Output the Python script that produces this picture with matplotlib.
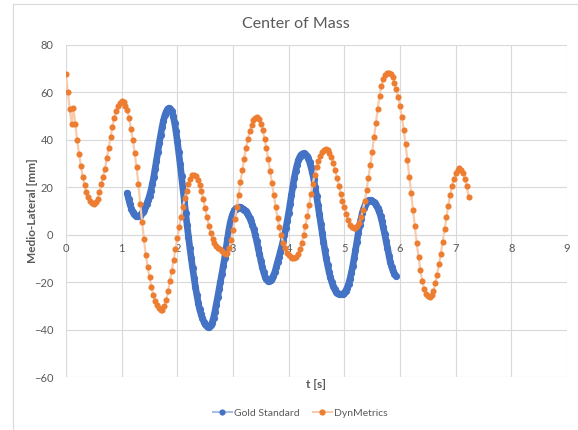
import matplotlib.pyplot as plt
import numpy as np
from matplotlib.lines import Line2D

plt.rcParams["font.family"] = ["Lato", "DejaVu Sans"]

# DynMetrics estimate, sampled at 30 Hz from t = 0
dyn_t0 = 0.0
dyn_dt = 1 / 30
dyn_ml = [
    67.5, 60.0, 53.0, 46.5, 53.3, 46.6, 40.0, 34.0, 29.0, 24.3,
    20.8, 18.1, 16.0, 14.4, 13.3, 12.9, 13.6, 15.2, 17.8, 21.3,
    24.3, 27.8, 32.2, 36.6, 41.2, 45.4, 49.2, 52.2, 54.2, 55.6,
    56.2, 55.7, 54.4, 52.6, 49.0, 44.5, 40.0, 34.5, 28.5, 21.5,
    13.0, 5.5, -2.0, -8.5, -13.5, -18.0, -22.0, -25.3, -27.9, -29.8,
    -31.0, -31.6, -31.5, -30.2, -27.5, -23.8, -19.6, -15.2, -10.6, -6.0,
    -1.3, 3.3, 7.6, 11.6, 15.3, 18.6, 21.4, 23.6, 25.0, 25.3,
    24.6, 23.2, 21.0, 18.2, 14.9, 11.2, 7.4, 3.8, 0.6, -1.9,
    -3.7, -4.8, -5.5, -6.1, -6.8, -7.6, -8.2, -7.8, -5.6, -2.2,
    2.0, 6.6, 11.6, 16.8, 22.0, 27.2, 32.0, 36.4, 40.3, 43.6,
    46.2, 48.1, 49.2, 49.4, 48.6, 46.8, 44.0, 40.5, 36.3, 31.7,
    26.8, 21.7, 16.6, 11.7, 7.2, 3.2, -0.3, -3.3, -5.7, -7.5,
    -8.5, -9.3, -9.8, -9.8, -9.3, -8.0, -6.0, -3.4, -0.2, 3.5,
    7.8, 12.5, 17.2, 21.5, 25.3, 28.5, 31.2, 33.3, 34.9, 35.8,
    36.0, 35.5, 34.4, 32.6, 30.2, 27.3, 24.0, 20.6, 17.3, 14.3,
    11.5, 8.6, 6.0, 4.2, 3.1, 2.7, 2.8, 3.5, 5.0, 7.3,
    10.5, 14.3, 19.0, 24.0, 29.5, 35.0, 41.0, 47.0, 53.0, 58.5,
    62.8, 65.5, 67.2, 68.1, 68.2, 67.6, 66.2, 64.0, 61.3, 58.0,
    54.0, 49.5, 44.0, 38.0, 31.5, 24.5, 17.5, 10.5, 3.5, -3.5,
    -9.5, -15.0, -19.5, -22.7, -24.9, -26.0, -26.3, -25.5, -23.5, -20.5,
    -16.8, -12.5, -8.0, -3.0, 2.2, 7.3, 12.2, 16.6, 20.4, 23.5,
    25.8, 27.3, 27.9, 27.4, 26.0, 23.6, 20.3, 16.0,
]

# Gold standard (marker based), resampled at 40 Hz from t = 1.1 s
gold_t0 = 1.1
gold_dt = 0.025
gold_ml = [
    17.5, 15.0, 12.8, 11.0, 9.6, 8.6, 8.0, 7.7, 7.7, 8.0,
    8.6, 9.4, 10.4, 11.6, 13.0, 14.6, 16.4, 18.6, 21.2, 24.2,
    27.6, 31.2, 35.0, 38.6, 42.0, 45.2, 48.0, 50.2, 51.8, 52.9,
    53.3, 53.0, 51.9, 50.0, 47.2, 43.6, 39.4, 34.7, 29.8, 24.6,
    19.4, 14.2, 9.0, 4.0, -0.9, -5.6, -10.0, -14.2, -18.2, -22.0,
    -25.4, -28.6, -31.4, -33.4, -35.2, -36.6, -37.8, -38.5, -38.8, -38.7,
    -38.2, -37.0, -35.0, -32.4, -29.4, -26.2, -23.0, -19.8, -16.6, -13.2,
    -9.8, -6.0, -2.0, 2.0, 5.0, 7.4, 9.0, 10.2, 11.0, 11.4,
    11.6, 11.6, 11.4, 11.0, 10.6, 10.0, 9.2, 8.2, 7.0, 5.6,
    4.0, 2.2, 0.0, -2.6, -5.4, -8.2, -11.0, -13.6, -15.8, -17.6,
    -18.8, -19.4, -19.5, -19.1, -18.4, -17.3, -15.8, -13.8, -11.5, -9.5,
    -7.3, -5.0, -2.6, 0.0, 2.8, 5.9, 9.3, 13.0, 16.8, 20.4,
    23.8, 26.8, 29.3, 31.3, 32.8, 33.7, 34.1, 34.2, 33.9, 33.2,
    32.1, 30.6, 28.6, 26.2, 23.4, 20.1, 16.5, 12.6, 8.6, 4.6,
    0.7, -3.0, -6.6, -9.9, -12.9, -15.6, -18.0, -20.0, -21.7, -23.0,
    -24.0, -24.5, -25.0, -25.1, -25.1, -24.9, -24.4, -23.6, -22.4, -20.8,
    -18.7, -16.2, -13.3, -10.0, -6.6, -3.0, 0.6, 3.9, 6.8, 9.3,
    11.2, 12.6, 13.6, 14.3, 14.5, 14.5, 14.3, 13.8, 13.2, 12.3,
    11.2, 9.8, 8.0, 5.7, 3.1, 0.3, -2.7, -5.8, -8.9, -11.5,
    -13.6, -15.2, -16.4, -17.3,
]

x_ticks = list(range(0, 10))
y_ticks = [-60, -40, -20, 0, 20, 40, 60, 80]

BLUE = "#4472C4"
BLUE_LINE = "#A9BEE6"
ORANGE = "#ED7D31"
ORANGE_LINE = "#F8CBAD"
GRID = "#D9D9D9"
TEXT = "#595959"

dyn_t = dyn_t0 + dyn_dt * np.arange(len(dyn_ml))
gold_t = gold_t0 + gold_dt * np.arange(len(gold_ml))

fig = plt.figure(figsize=(5.78, 4.30), dpi=100)
ax = fig.add_axes([66 / 578, 1 - 377.2 / 430, 501 / 578, 332.5 / 430])

ax.set_xlim(0, 9)
ax.set_ylim(-60, 80)
ax.set_xticks(x_ticks)
ax.set_yticks(y_ticks)
ax.grid(True, color=GRID, linewidth=0.8)
ax.set_axisbelow(True)
for side in ["top", "right", "left"]:
    ax.spines[side].set_visible(False)
ax.spines["bottom"].set_position(("data", 0))
ax.spines["bottom"].set_color(GRID)
ax.spines["bottom"].set_linewidth(0.8)
ax.tick_params(axis="both", length=0, colors=TEXT, labelsize=8)
ax.tick_params(axis="x", pad=6)
ax.tick_params(axis="y", pad=9)

# gold standard: dense samples read as a thick band
ax.plot(gold_t, gold_ml, color=BLUE, linewidth=4.8, solid_capstyle="round", zorder=3)
ax.plot(gold_t, gold_ml, linestyle="none", marker="o", markersize=5.2,
        color=BLUE, markeredgewidth=0, zorder=3)

ax.plot(dyn_t, dyn_ml, color=ORANGE_LINE, linewidth=1.6, zorder=4)
ax.plot(dyn_t, dyn_ml, linestyle="none", marker="o", markersize=4.4,
        color=ORANGE, markeredgewidth=0, zorder=4)

ax.text(0.5, -0.021, "t [s]", transform=ax.transAxes, ha="center", va="center",
        fontsize=8.5, fontweight="bold", color=TEXT)
fig.text(32 / 578, 1 - 211 / 430, "Medio-Lateral [mm]", rotation=90,
         ha="center", va="center", fontsize=8.5, fontweight="bold", color=TEXT)
fig.text(296 / 578, 1 - 24 / 430, "Center of Mass", ha="center", va="center",
         fontsize=11.5, color=TEXT)

handles = [
    Line2D([], [], color=BLUE_LINE, linewidth=1.5, marker="o", markersize=4.5,
           markerfacecolor=BLUE, markeredgewidth=0),
    Line2D([], [], color=ORANGE_LINE, linewidth=1.5, marker="o", markersize=4.5,
           markerfacecolor=ORANGE, markeredgewidth=0),
]
fig.legend(handles, ["Gold Standard", "DynMetrics"], loc="center",
           bbox_to_anchor=(300 / 578, 1 - 413 / 430), ncol=2, frameon=False,
           fontsize=7.5, labelcolor=TEXT, handlelength=1.9, columnspacing=1.25,
           handletextpad=0.15)

# chart frame
fig.add_artist(Line2D([13 / 578, 13 / 578], [0, 1 - 4 / 430], color=GRID, linewidth=0.8))
fig.add_artist(Line2D([13 / 578, 1], [1 - 4 / 430, 1 - 4 / 430], color=GRID, linewidth=0.8))

fig.savefig("out.png", dpi=100)
